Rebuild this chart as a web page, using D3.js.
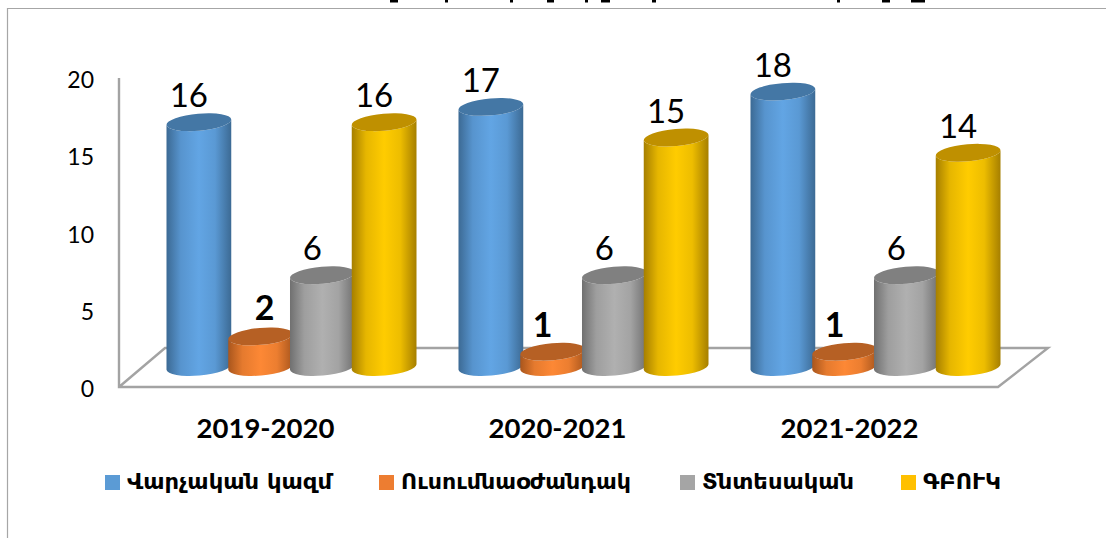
<!DOCTYPE html>
<html><head><meta charset="utf-8">
<script src="https://cdn.jsdelivr.net/npm/d3@7"></script>
<style>html,body{margin:0;padding:0;background:#fff}svg{display:block}</style>
</head><body><svg id="c" width="1106" height="538"></svg>
<script>
const categories = ["2019-2020","2020-2021","2021-2022"];
const seriesNames = ["Վարչական կազմ","Ուսումնաօժանդակ","Տնտեսական","ԳԲՈՒԿ"];
const admin = [16,17,18];
const support = [2,1,1];
const economic = [6,6,6];
const gbuk = [16,15,14];
const yTicks = [0,5,10,15,20];
const swatch = ["#5b9bd5","#ed7d31","#a5a5a5","#ffc000"];
const light  = ["#62a5e4","#fd8835","#b0b0b0","#ffcc00"];
const dark   = ["#3c6a94","#a9561d","#707070","#a67f00"];
const topCol = ["#4477a5","#b66024","#808080","#bf9000"];
const legendX = [105,379,680,901];
const legendW = [205,230,152,78];
// clipped remains of the unreadable title: [x, width]
const titleSlivers = [[390,8],[445,3],[510,3],[547,7],[585,3],[601,9],[652,4],[837,3],[882,8],[911,14]];

const series = [admin,support,economic,gbuk];
const svg = d3.select("#c");
const defs = svg.append("defs");
swatch.forEach((c,i)=>{
  const g = defs.append("linearGradient").attr("id","g"+i);
  [[0,dark[i]],[.22,d3.interpolateRgb(dark[i],light[i])(.72)],[.5,light[i]],[.75,d3.interpolateRgb(dark[i],light[i])(.8)],[1,dark[i]]]
    .forEach(([o,col])=>g.append("stop").attr("offset",o).attr("stop-color",col));
});

const y = d3.scaleLinear().domain([0,20]).range([387,78]);
const yCyl = d3.scaleLinear().domain([0,20]).range([367,61]);
const x0 = d3.scaleBand().domain(categories).range([145.5,1021.5]).padding(0);
const x1 = d3.scaleBand().domain(d3.range(4)).range([22.5,269.5]).padding(0);

const font = "Lato, Carlito, sans-serif";
const arm = "'DejaVu Sans', 'Noto Sans', sans-serif";
const lineCol = "#a3a3a3";

// frame
svg.append("path").attr("d","M7.5,538V8.5H1106").attr("fill","none").attr("stroke","#a6a6a6").attr("stroke-width",1.2);
svg.selectAll(".sl").data(titleSlivers).join("rect").attr("class","sl")
  .attr("x",d=>d[0]).attr("y",0).attr("width",d=>d[1]).attr("height",2.5).attr("fill","#000");

// walls and floor
svg.append("path")
  .attr("d",`M119,${y(20)}V${y(0)}H998L1048,348H165L119,${y(0)}`)
  .attr("fill","none").attr("stroke",lineCol).attr("stroke-width",2.4);

// y axis labels
svg.selectAll(".yt").data(yTicks).join("text").attr("class","yt")
  .attr("x",94).attr("y",d=>y(d)+10).attr("text-anchor","end")
  .attr("font-family",font).attr("font-size",23).attr("fill","#000").text(d=>d);

// cylinders
const rx=32.5, ry=8.5, tilt=5*Math.PI/180;
function cyl(cx,top,bot){
  const dx=rx*Math.cos(tilt), dy=rx*Math.sin(tilt), a=-5;
  return {
    body:`M${cx-dx},${top+dy}L${cx-dx},${bot+dy}A${rx},${ry} ${a} 0 0 ${cx+dx},${bot-dy}L${cx+dx},${top-dy}A${rx},${ry} ${a} 0 1 ${cx-dx},${top+dy}Z`,
    top:`M${cx-dx},${top+dy}A${rx},${ry} ${a} 0 1 ${cx+dx},${top-dy}A${rx},${ry} ${a} 0 1 ${cx-dx},${top+dy}Z`
  };
}
categories.forEach((cat,ci)=>{
  const g = svg.append("g");
  series.forEach((vals,si)=>{
    const cx = x0(cat)+x1(si)+x1.bandwidth()/2, p = cyl(cx,yCyl(vals[ci]),yCyl(0));
    g.append("path").attr("d",p.body).attr("fill",`url(#g${si})`);
    g.append("path").attr("d",p.top).attr("fill",topCol[si]);
  });
  series.forEach((vals,si)=>{
    const cx = x0(cat)+x1(si)+x1.bandwidth()/2, v = vals[ci];
    g.append("text").attr("x",cx+(v===2?4:-10)).attr("y",yCyl(v)-(v===2?16:15)).attr("text-anchor","middle")
      .attr("font-family",font).attr("font-size",si===1?34:33)
      .attr("font-weight",si===1?700:400).attr("fill","#000").text(v);
  });
  svg.append("text").attr("x",x0(cat)+x0.bandwidth()/2-26).attr("y",438).attr("text-anchor","middle")
    .attr("font-family",font).attr("font-weight",700).attr("font-size",27.5).attr("fill","#000").text(cat);
});

// legend
seriesNames.forEach((n,i)=>{
  svg.append("rect").attr("x",legendX[i]).attr("y",475).attr("width",15).attr("height",15).attr("fill",swatch[i]);
  svg.append("text").attr("x",legendX[i]+22).attr("y",489)
    .attr("font-family",arm).attr("font-weight",700).attr("font-size",22).attr("fill","#000")
    .attr("textLength",legendW[i]).attr("lengthAdjust","spacingAndGlyphs").text(n);
});
</script></body></html>
